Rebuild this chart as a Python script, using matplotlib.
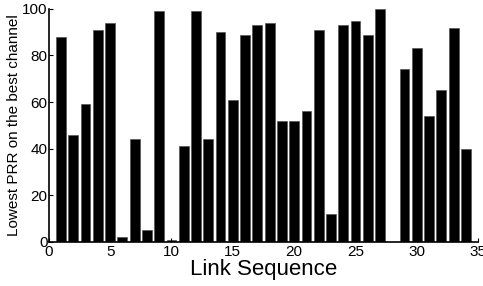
import matplotlib
matplotlib.use("Agg")
import matplotlib.pyplot as plt

links = list(range(1, 35))
prr = [88, 46, 59, 91, 94, 2, 44, 5, 99, 1, 41, 99, 44, 90, 61, 89, 93, 94,
       52, 52, 56, 91, 12, 93, 95, 89, 100, 0, 74, 83, 54, 65, 92, 40]
xticks = [0, 5, 10, 15, 20, 25, 30, 35]
yticks = [0, 20, 40, 60, 80, 100]

plt.rcParams['font.family'] = ['Liberation Sans', 'DejaVu Sans']
fig = plt.figure(figsize=(4.83, 2.86), dpi=100)
ax = fig.add_axes([0.101, 0.154, 0.889, 0.815])
ax.bar(links, prr, width=0.8, color='black', edgecolor='#555555', linewidth=0.5)
ax.set_xlim(0, 35)
ax.set_ylim(0, 100)
ax.set_xticks(xticks)
ax.set_yticks(yticks)
ax.tick_params(direction='in', length=3, labelsize=11, pad=1)
ax.tick_params(axis='x', pad=2.5)
for s in ['top', 'right']:
    ax.spines[s].set_visible(False)
for s in ['left', 'bottom']:
    ax.spines[s].set_linewidth(1.2)
ax.set_xlabel('Link Sequence', fontsize=16, labelpad=0)
ax.set_ylabel('Lowest PRR on the best channel', fontsize=11, labelpad=1)
fig.savefig('out.png', dpi=100)
